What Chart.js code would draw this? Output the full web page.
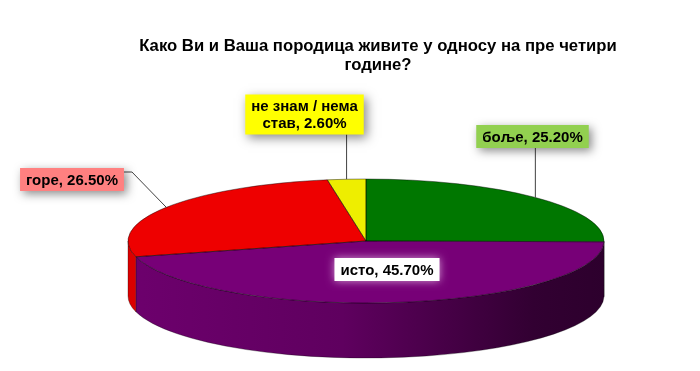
<!DOCTYPE html>
<html>
<head>
<meta charset="utf-8">
<script src="https://cdn.jsdelivr.net/npm/chart.js@4.4.0/dist/chart.umd.min.js"></script>
<style>
  body { margin: 0; background: #fff; }
  #wrap { width: 700px; height: 371px; }
</style>
</head>
<body>
<div id="wrap"><canvas id="chartPie"></canvas></div>
<script>
// podaci
const categories = ['боље', 'исто', 'горе', 'не знам / нема став'];
const shares = [25.2, 45.7, 26.5, 2.6];
const sliceColors = ['#007700', '#770077', '#ee0000', '#eeee00'];
const boxColors = ['#92d050', '#ffffff', '#ff8080', '#ffff00'];

// where the tilted pie sits on the canvas
const pie = { cx: 366, cy: 241, rx: 238, ry: 62, depth: 55 };

// label boxes (centre point), leader style
const labelBoxes = [
  { x: 532.5, y: 136.5, leader: 'down', glow: false },
  { x: 387, y: 269.5, leader: 'none', glow: true },
  { x: 72, y: 179.5, leader: 'elbow', glow: false },
  { x: 304.5, y: 114.5, leader: 'down', glow: false, maxWidth: 112 }
];

function shade(hex, f) {
  const n = parseInt(hex.slice(1), 16);
  const r = Math.round(((n >> 16) & 255) * f);
  const g = Math.round(((n >> 8) & 255) * f);
  const b = Math.round((n & 255) * f);
  return `rgb(${r},${g},${b})`;
}

function pt(a, dy) {
  return [pie.cx + pie.rx * Math.cos(a), pie.cy + pie.ry * Math.sin(a) + (dy || 0)];
}

function wrapText(ctx, text, maxWidth) {
  if (!maxWidth) return [text];
  const words = text.split(' ');
  const lines = [];
  let line = '';
  words.forEach(w => {
    const test = line ? line + ' ' + w : w;
    if (ctx.measureText(test).width > maxWidth && line) {
      lines.push(line);
      line = w;
    } else {
      line = test;
    }
  });
  lines.push(line);
  return lines;
}

const pie3d = {
  id: 'pie3d',
  beforeDatasetsDraw(chart) {
    const ctx = chart.ctx;
    const arcs = chart.getDatasetMeta(0).data;
    if (!arcs.length) return;

    // bocne strane (samo prednja polovina)
    arcs.forEach((el, i) => {
      const s = Math.max(el.startAngle, 0);
      const e = Math.min(el.endAngle, Math.PI);
      if (e <= s) return;
      const grad = ctx.createLinearGradient(pie.cx - pie.rx, 0, pie.cx + pie.rx, 0);
      grad.addColorStop(0, shade(sliceColors[i], 0.92));
      grad.addColorStop(0.45, shade(sliceColors[i], 0.8));
      grad.addColorStop(0.85, shade(sliceColors[i], 0.42));
      grad.addColorStop(1, shade(sliceColors[i], 0.38));
      ctx.beginPath();
      ctx.ellipse(pie.cx, pie.cy, pie.rx, pie.ry, 0, s, e);
      const pe = pt(e, pie.depth);
      ctx.lineTo(pe[0], pe[1]);
      ctx.ellipse(pie.cx, pie.cy + pie.depth, pie.rx, pie.ry, 0, e, s, true);
      ctx.closePath();
      ctx.fillStyle = grad;
      ctx.fill();
      ctx.lineWidth = 0.6;
      ctx.strokeStyle = 'rgba(0,0,0,0.5)';
      ctx.stroke();
    });

    // gornja ploha: library arcs, squashed into the ellipse
    const el = arcs[0];
    const R = el.outerRadius;
    ctx.save();
    ctx.translate(pie.cx, pie.cy);
    ctx.scale(pie.rx / R, pie.ry / R);
    ctx.translate(-el.x, -el.y);
  },
  afterDatasetsDraw(chart) {
    const ctx = chart.ctx;
    ctx.restore();
    const arcs = chart.getDatasetMeta(0).data;

    // obrisi kriski
    ctx.lineWidth = 0.7;
    ctx.strokeStyle = 'rgba(0,0,0,0.6)';
    arcs.forEach(el => {
      const p0 = pt(el.startAngle);
      ctx.beginPath();
      ctx.moveTo(pie.cx, pie.cy);
      ctx.lineTo(p0[0], p0[1]);
      ctx.ellipse(pie.cx, pie.cy, pie.rx, pie.ry, 0, el.startAngle, el.endAngle);
      ctx.closePath();
      ctx.stroke();
    });

    // labele
    ctx.font = 'bold 15px "Liberation Sans", Arial, sans-serif';
    ctx.textAlign = 'center';
    ctx.textBaseline = 'middle';
    arcs.forEach((el, i) => {
      const box = labelBoxes[i];
      const text = categories[i] + ', ' + shares[i].toFixed(2) + '%';
      const lines = wrapText(ctx, text, box.maxWidth);
      const w = Math.max(...lines.map(l => ctx.measureText(l).width)) + 12;
      const lh = 17;
      const h = lines.length * lh + 6;
      const left = box.x - w / 2, top = box.y - h / 2;

      // leader
      const mid = (el.startAngle + el.endAngle) / 2;
      const a = pt(mid);
      ctx.beginPath();
      ctx.lineWidth = 1;
      ctx.strokeStyle = '#404040';
      if (box.leader === 'down') {
        ctx.moveTo(a[0], top + h);
        ctx.lineTo(a[0], a[1]);
      } else if (box.leader === 'elbow') {
        ctx.moveTo(left + w, top + 4);
        ctx.lineTo(left + w + 8, top + 4);
        ctx.lineTo(a[0], a[1]);
      }
      ctx.stroke();

      ctx.save();
      if (box.glow) {
        ctx.shadowColor = 'rgba(220,170,220,0.9)';
        ctx.shadowBlur = 8;
      } else {
        ctx.shadowColor = 'rgba(0,0,0,0.45)';
        ctx.shadowBlur = 10;
        ctx.shadowOffsetX = 3;
        ctx.shadowOffsetY = 3;
      }
      ctx.fillStyle = boxColors[i];
      ctx.fillRect(left, top, w, h);
      ctx.restore();

      ctx.fillStyle = '#000';
      lines.forEach((l, k) => {
        ctx.fillText(l, box.x, top + 3 + lh * k + lh / 2 + 1);
      });
    });
  }
};

new Chart(document.getElementById('chartPie'), {
  type: 'pie',
  data: {
    labels: categories,
    datasets: [{
      data: shares,
      backgroundColor: sliceColors,
      borderWidth: 0,
      clip: false
    }]
  },
  options: {
    responsive: true,
    maintainAspectRatio: false,
    animation: false,
    events: [],
    layout: { padding: { left: 56 } },
    plugins: {
      legend: { display: false },
      tooltip: { enabled: false },
      title: {
        display: true,
        text: ['Како Ви и Ваша породица живите у односу на пре четири', 'године?'],
        color: '#000',
        font: { family: '"Liberation Sans", Arial, sans-serif', size: 16.7, weight: 'bold', lineHeight: 1.12 },
        padding: { top: 37, bottom: 10 }
      }
    }
  },
  plugins: [pie3d]
});
</script>
</body>
</html>
